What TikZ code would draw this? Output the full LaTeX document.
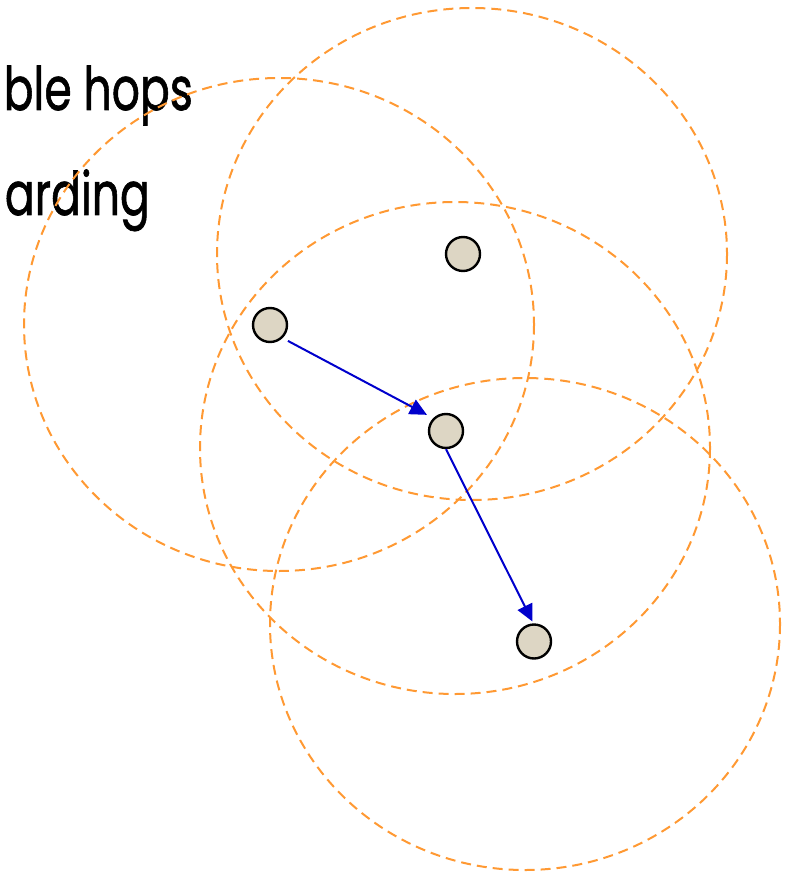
\documentclass[tikz,border=0pt]{standalone}
\usepackage{fontspec}
\setmainfont{Poppins}[FakeBold=1.2]
\usetikzlibrary{arrows.meta}
\definecolor{rangeorange}{RGB}{255,153,51}
\definecolor{nodefill}{RGB}{221,214,196}
\definecolor{linkblue}{RGB}{0,0,204}
\tikzset{
  radiorange/.style={draw=rangeorange, line width=2pt, dash pattern=on 10pt off 6pt},
  host/.style={circle, draw=black, line width=2.4pt, fill=nodefill, minimum size=34pt, inner sep=0pt},
  hop/.style={draw=linkblue, line width=2pt, -{Triangle[length=17pt,width=16pt]}},
  bullettext/.style={font=\fontsize{60}{64}\selectfont, anchor=base east, inner sep=0pt}
}
\begin{document}
\begin{tikzpicture}[x=1pt,y=-1pt]
\useasboundingbox (0,0) rectangle (792,874);
\node[bullettext] (t1) at (193,110) {\scalebox{0.735}[1]{ble hops}};
\node[bullettext] (t2) at (150,215) {\scalebox{0.735}[1]{arding}};
\draw[radiorange] (279,324.5) ellipse [x radius=255, y radius=246.5];
\draw[radiorange] (472,254) ellipse [x radius=255, y radius=246];
\draw[radiorange] (455,448) ellipse [x radius=255, y radius=246];
\draw[radiorange] (525,624) ellipse [x radius=255, y radius=246];
\node[host] (n1) at (270,325) {};
\node[host] (n2) at (463,254) {};
\node[host] (n3) at (446,431) {};
\node[host] (n4) at (534,641.5) {};
\draw[hop, shorten <=6pt, shorten >=7pt] (n1.-46) -- (n3.135);
\draw[hop, shorten >=2pt] (n3.-90) -- (n4.92);
\end{tikzpicture}
\end{document}
